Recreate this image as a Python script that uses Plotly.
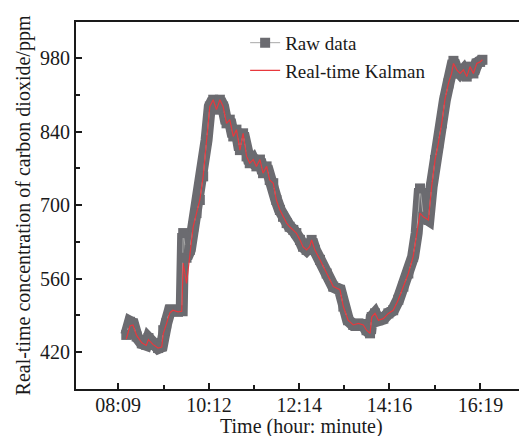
import plotly.graph_objects as go

# time in minutes since midnight
time_min = [500, 505, 509, 514, 521, 527, 530, 536, 543, 548, 550, 554, 559, 563, 570, 575,
            577, 581.5, 586, 590.5, 595, 599.5, 604, 608.6, 613, 617.6, 622, 626.6, 631, 635.6,
            640, 644.7, 649, 653.7, 658, 662.7, 667, 671.7, 676, 680.8, 685, 689.8, 694, 698.8,
            703, 707.8, 712, 716.9, 721, 725.9, 730, 734.9, 739, 743.9, 748, 750.7, 755, 762,
            771, 780, 789, 793.6, 800, 807, 814, 820.6, 825, 829.7, 832, 836.4, 841, 847.7,
            854.5, 861, 868, 874.8, 881.5, 888, 892.8, 897.3, 901.8, 908.6, 913, 917.6, 922,
            926.7, 931, 935.7, 940, 942.5, 947, 951.5, 956, 960.5, 965, 969.5, 974, 978.6, 981.7]

raw_ppm = [453, 478, 475, 450, 437, 434, 447, 434, 428, 431, 462, 475, 500, 500, 497, 500,
           647, 600, 615, 659, 685, 710, 755, 824, 888, 901, 882, 901, 888, 856,
           863, 831, 844, 805, 837, 793, 780, 787, 774, 787, 761, 774, 748, 742,
           710, 691, 678, 666, 659, 653, 647, 634, 621, 615, 621, 634, 615, 596,
           570, 545, 539, 507, 481, 472, 475, 472, 462, 456, 487, 494, 481, 484,
           494, 500, 520, 545, 570, 602, 647, 732, 678, 672, 735, 786, 818,
           856, 901, 932, 951, 975, 958, 951, 958, 945, 964, 951, 970, 973, 977]

kalman_ppm = [445, 470, 472, 452, 438, 433, 444, 435, 428, 430, 455, 472, 495, 500, 497, 498,
              590, 551, 608, 659, 685, 710, 755, 824, 888, 901, 882, 901, 888, 856,
              863, 831, 844, 805, 837, 793, 780, 787, 774, 787, 761, 774, 748, 742,
              710, 691, 678, 666, 659, 653, 647, 634, 621, 615, 621, 634, 615, 596,
              570, 545, 539, 507, 481, 472, 475, 472, 462, 456, 487, 494, 481, 484,
              494, 500, 520, 545, 570, 602, 647, 685, 678, 672, 735, 786, 818,
              856, 901, 932, 951, 970, 958, 951, 958, 945, 964, 951, 970, 973, 977]

x_tick_vals = [489, 612, 734, 856, 979]
x_tick_text = ["08:09", "10:12", "12:14", "14:16", "16:19"]
y_tick_vals = [420, 560, 700, 840, 980]
x_title = "Time (hour: minute)"
y_title = "Real-time concentration of carbon dioxide/ppm"

GRAY = "#6b6b70"
RED = "#e8383d"
FONT = "Liberation Serif"
INK = "#1a1a1a"

fig = go.Figure()
# thick band of raw samples
fig.add_trace(go.Scatter(x=time_min, y=raw_ppm, mode="lines",
                         line=dict(color=GRAY, width=12), showlegend=False, hoverinfo="skip"))
fig.add_trace(go.Scatter(x=time_min, y=raw_ppm, mode="lines+markers", name="Raw data",
                         line=dict(color="#a8a8a8", width=1),
                         marker=dict(symbol="square", size=10, color=GRAY)))
fig.add_trace(go.Scatter(x=time_min, y=kalman_ppm, mode="lines", name="Real-time Kalman",
                         line=dict(color=RED, width=1.2)))

# page body has an 8px default margin, so the figure is sized/margined to compensate
fig.update_layout(
    width=519, height=428,
    margin=dict(l=68, r=0, t=14, b=47),
    paper_bgcolor="white", plot_bgcolor="white",
    font=dict(family=FONT, size=20, color=INK),
    legend=dict(x=0.375, y=0.995, xanchor="left", yanchor="top",
                bgcolor="rgba(0,0,0,0)", font=dict(size=19), tracegroupgap=0),
    xaxis=dict(range=[432, 1042], tickvals=x_tick_vals, ticktext=x_tick_text,
               automargin=False, ticklabelstandoff=-3,
               showgrid=False, zeroline=False, showline=True, linecolor=INK,
               linewidth=2, mirror=True, ticks="inside", ticklen=6, tickwidth=1.5,
               tickcolor=INK,
               minor=dict(tickvals=[550.5, 673, 795, 917.5], ticks="inside", ticklen=4,
                          tickwidth=1.5, tickcolor=INK)),
    yaxis=dict(range=[350, 1049], tickvals=y_tick_vals, automargin=False,
               showgrid=False, zeroline=False, showline=True, linecolor=INK,
               linewidth=2, ticks="inside", ticklen=6, tickwidth=1.5, tickcolor=INK,
               minor=dict(tickvals=[490, 630, 770, 910], ticks="inside", ticklen=4,
                          tickwidth=1.5, tickcolor=INK),
               title=dict(text=y_title, standoff=4, font=dict(size=20))),
    annotations=[dict(text=x_title, xref="paper", yref="paper", x=0.5, y=0,
                      xanchor="center", yanchor="middle", yshift=-37, showarrow=False,
                      font=dict(size=20, color=INK))],
)

fig.write_html("out.html")
